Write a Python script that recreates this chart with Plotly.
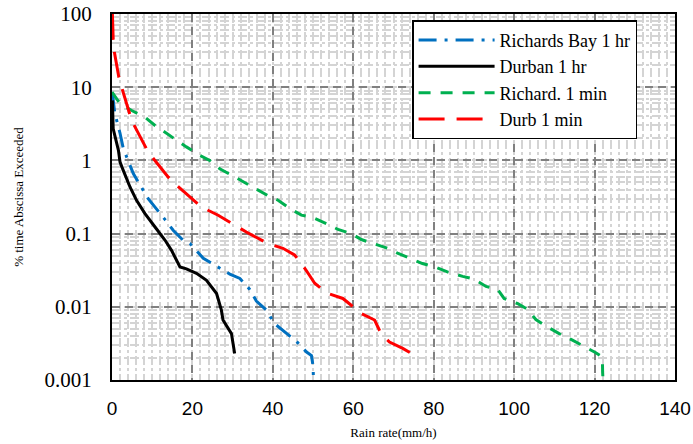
import plotly.graph_objects as go

# Durban 1 hr (black, solid)
durban_1hr_x = [0.1, 0.3, 1.6, 2.0, 2.8, 4.5, 6.1, 8.2, 10.7, 13.2, 14.8, 16.1, 16.9, 18.5, 21.0, 23.5, 26.0, 27.2, 27.6, 29.7, 30.5]
durban_1hr_y = [6.6, 2.7, 1.37, 0.95, 0.73, 0.43, 0.285, 0.188, 0.123, 0.081, 0.059, 0.043, 0.035, 0.033, 0.0286, 0.023, 0.0152, 0.009, 0.0066, 0.0043, 0.0023]

# Richards Bay 1 hr (blue, dash-dot)
rb_1hr_x = [0.1, 0.7, 2.0, 2.8, 5.3, 7.2, 9.0, 13.2, 15.2, 17.7, 19.4, 22.7, 26.0, 29.3, 31.8, 34.2, 35.9, 38.4, 40.4, 42.9, 45.8, 48.3, 49.6, 50.0, 50.1]
rb_1hr_y = [8.2, 4.4, 2.35, 1.46, 0.66, 0.44, 0.30, 0.155, 0.111, 0.081, 0.073, 0.046, 0.036, 0.028, 0.0244, 0.0174, 0.012, 0.009, 0.0059, 0.0046, 0.0034, 0.00243, 0.00216, 0.00155, 0.001]

# Richards Bay 1 min (green, short dash)
rb_1min_x = [0.0, 2.0, 4.9, 8.2, 10.7, 13.2, 16.1, 18.5, 21.8, 24.3, 26.8, 29.7, 32.6, 35.5, 38.8, 41.3, 44.2, 47.1, 50.0, 53.3, 56.2, 59.5, 62.0, 65.3, 68.6, 71.0, 74.4, 77.2, 80.6, 83.4, 87.2, 90.1, 93.0, 95.9, 97.5, 100.8, 103.3, 105.4, 108.3, 111.2, 114.5, 117.4, 120.3, 121.7, 121.96, 122.0, 122.1]
rb_1min_y = [8.6, 5.96, 4.8, 3.9, 3.0, 2.44, 1.88, 1.53, 1.17, 1.0, 0.77, 0.63, 0.51, 0.41, 0.33, 0.286, 0.22, 0.179, 0.165, 0.137, 0.114, 0.100, 0.083, 0.072, 0.063, 0.054, 0.045, 0.039, 0.0345, 0.030, 0.026, 0.0239, 0.019, 0.0173, 0.013, 0.0111, 0.0093, 0.0067, 0.0053, 0.0043, 0.0035, 0.0029, 0.00236, 0.0021, 0.00176, 0.00129, 0.001]

# Durban 1 min (red, long dash)
durb_1min_x = [0.1, 0.3, 0.6, 1.7, 2.4, 4.5, 4.9, 9.0, 10.7, 14.0, 15.6, 19.8, 22.3, 26.4, 30.5, 33.4, 38.8, 42.5, 45.4, 47.1, 49.1, 50.4, 53.3, 57.4, 59.5, 62.0, 65.3, 66.9, 69.0, 72.3, 76.4]
durb_1min_y = [100, 45, 30, 13.7, 10, 4.1, 3.5, 1.3, 1.0, 0.59, 0.48, 0.30, 0.23, 0.178, 0.130, 0.105, 0.073, 0.063, 0.051, 0.039, 0.027, 0.021, 0.0155, 0.013, 0.0105, 0.0081, 0.0066, 0.0043, 0.0033, 0.0027, 0.002]

y_tick_vals = [0.001, 0.01, 0.1, 1, 10, 100]
y_tick_text = ["0.001", "0.01", "0.1", "1", "10", "100"]
x_tick_vals = [0, 20, 40, 60, 80, 100, 120, 140]

fig = go.Figure()
fig.add_trace(go.Scatter(x=rb_1hr_x, y=rb_1hr_y, mode="lines", name="Richards Bay 1 hr",
                         line=dict(color="#0070C0", width=3, dash="18px,8px,3px,8px")))
fig.add_trace(go.Scatter(x=durban_1hr_x, y=durban_1hr_y, mode="lines", name="Durban 1 hr",
                         line=dict(color="black", width=3)))
fig.add_trace(go.Scatter(x=rb_1min_x, y=rb_1min_y, mode="lines", name="Richard. 1 min",
                         line=dict(color="#00B050", width=3, dash="12px,10px")))
fig.add_trace(go.Scatter(x=durb_1min_x, y=durb_1min_y, mode="lines", name="Durb 1 min",
                         line=dict(color="#FF0000", width=3, dash="26px,12px")))

fig.update_layout(
    width=693, height=444,
    margin=dict(l=112, r=18, t=14, b=64),
    paper_bgcolor="white", plot_bgcolor="white",
    font=dict(family="Liberation Serif", color="black"),
    showlegend=True,
    legend=dict(x=0.533, y=0.983, xanchor="left", yanchor="top",
                bgcolor="white", bordercolor="black", borderwidth=1.5,
                font=dict(family="Liberation Serif", size=18, color="black"),
                itemwidth=76, tracegroupgap=0),
)
fig.update_xaxes(
    range=[0, 140], tickvals=x_tick_vals, ticks="", automargin=False,
    tickfont=dict(family="Liberation Sans", size=19, color="black"),
    ticklabelstandoff=10,
    showline=True, linecolor="black", linewidth=2, mirror=True,
    showgrid=True, gridcolor="#808080", gridwidth=1.5, griddash="8px,5px",
    minor=dict(dtick=2, showgrid=True, gridcolor="#d4d4d4", gridwidth=1.5, griddash="dashdot"),
    zeroline=False,
    title=dict(text="Rain rate(mm/h)", font=dict(family="Liberation Serif", size=13), standoff=10),
)
fig.update_yaxes(
    type="log", range=[-3, 2], tickvals=y_tick_vals, ticktext=y_tick_text, ticks="", automargin=False,
    tickfont=dict(family="Liberation Serif", size=21, color="black"),
    ticklabelstandoff=14,
    showline=True, linecolor="black", linewidth=2, mirror=True,
    showgrid=True, gridcolor="#808080", gridwidth=1.5, griddash="8px,5px",
    minor=dict(dtick="D1", showgrid=True, gridcolor="#d4d4d4", gridwidth=1.5, griddash="dashdot"),
    zeroline=False,
    title=dict(text="% time Abscissa Exceeded", font=dict(family="Liberation Serif", size=13), standoff=18),
)

fig.write_html("out.html")
